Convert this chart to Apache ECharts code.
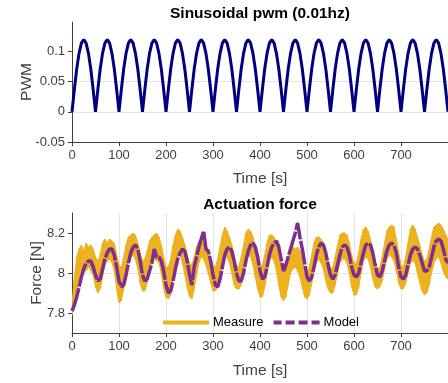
<!DOCTYPE html>
<html>
<head>
<meta charset="utf-8">
<script src="https://cdn.jsdelivr.net/npm/echarts@6/dist/echarts.min.js"></script>
<style>
html,body{margin:0;padding:0;background:#fff;}
#c{width:448px;height:383px;}
</style>
</head>
<body>
<div id="c"></div>
<script>
// ---- data ----
const dt = 5; // sample step [s]
const pwmValues = [
0,0.037,0.071,0.097,0.114,0.12,0.114,0.097,0.071,0.037,
0,0.037,0.071,0.097,0.114,0.12,0.114,0.097,0.071,0.037,
0,0.037,0.071,0.097,0.114,0.12,0.114,0.097,0.071,0.037,
0,0.037,0.071,0.097,0.114,0.12,0.114,0.097,0.071,0.037,
0,0.037,0.071,0.097,0.114,0.12,0.114,0.097,0.071,0.037,
0,0.037,0.071,0.097,0.114,0.12,0.114,0.097,0.071,0.037,
0,0.037,0.071,0.097,0.114,0.12,0.114,0.097,0.071,0.037,
0,0.037,0.071,0.097,0.114,0.12,0.114,0.097,0.071,0.037,
0,0.037,0.071,0.097,0.114,0.12,0.114,0.097,0.071,0.037,
0,0.037,0.071,0.097,0.114,0.12,0.114,0.097,0.071,0.037,
0,0.037,0.071,0.097,0.114,0.12,0.114,0.097,0.071,0.037,
0,0.037,0.071,0.097,0.114,0.12,0.114,0.097,0.071,0.037,
0,0.037,0.071,0.097,0.114,0.12,0.114,0.097,0.071,0.037,
0,0.037,0.071,0.097,0.114,0.12,0.114,0.097,0.071,0.037,
0,0.037,0.071,0.097,0.114,0.12,0.114,0.097,0.071,0.037,
0,0.037,0.071,0.097,0.114,0.12,0.114,0.097,0.071,0.037,
0];

const modelValues = [
7.81,7.84,7.88,7.93,7.98,8.02,8.05,8.06,8.06,8.03,
7.99,7.96,7.97,8.02,8.07,8.10,8.12,8.12,8.09,8.03,
7.96,7.93,7.94,7.99,8.05,8.10,8.13,8.14,8.12,8.06,
7.99,7.96,7.97,8.01,8.05,8.12,8.08,8.08,8.06,8.01,
7.94,7.90,7.91,7.96,8.02,8.07,8.10,8.12,8.11,8.06,
7.99,7.94,8.03,8.08,8.13,8.17,8.21,8.12,8.11,8.06,
7.99,7.94,7.93,7.97,8.03,8.09,8.12,8.13,8.11,8.06,
8.00,7.96,7.96,8.00,8.06,8.11,8.14,8.15,8.13,8.08,
8.01,7.97,7.98,8.03,8.09,8.13,8.15,8.16,8.13,8.07,
8.01,8.04,8.08,8.12,8.16,8.20,8.25,8.18,8.12,8.05,
7.98,7.96,7.98,8.03,8.09,8.13,8.15,8.14,8.10,8.04,
7.99,7.97,7.99,8.04,8.09,8.13,8.14,8.13,8.09,8.03,
7.99,7.98,8.00,8.05,8.10,8.14,8.15,8.14,8.10,8.04,
7.99,7.98,8.01,8.06,8.11,8.14,8.15,8.14,8.10,8.03,
7.98,7.97,7.99,8.04,8.09,8.12,8.13,8.12,8.09,8.05,
8.01,8.01,8.03,8.08,8.13,8.16,8.17,8.16,8.12,8.07,
8.05];

const measureHigh = [
7.84,7.98,8.08,8.12,8.14,8.11,8.15,8.13,8.14,8.12,
8.08,8.06,8.09,8.15,8.17,8.15,8.17,8.16,8.15,8.09,
8.04,8.03,8.08,8.14,8.18,8.19,8.20,8.19,8.15,8.10,
8.06,8.07,8.11,8.16,8.18,8.19,8.20,8.18,8.14,8.08,
8.03,8.03,8.07,8.14,8.19,8.22,8.21,8.18,8.14,8.09,
8.05,8.04,8.08,8.13,8.16,8.16,8.15,8.14,8.11,8.07,
8.04,8.03,8.07,8.13,8.19,8.23,8.21,8.18,8.14,8.08,
8.04,8.03,8.08,8.14,8.20,8.22,8.21,8.18,8.12,8.06,
8.03,8.04,8.09,8.15,8.19,8.19,8.18,8.15,8.10,8.05,
8.02,8.03,8.08,8.12,8.13,8.12,8.13,8.11,8.07,8.02,
8.00,8.03,8.09,8.15,8.18,8.18,8.17,8.15,8.11,8.06,
8.02,8.03,8.08,8.14,8.19,8.20,8.20,8.19,8.15,8.09,
8.05,8.05,8.10,8.17,8.22,8.23,8.21,8.17,8.12,8.06,
8.02,8.03,8.08,8.15,8.21,8.23,8.24,8.23,8.17,8.10,
8.04,8.03,8.08,8.15,8.22,8.24,8.22,8.18,8.14,8.09,
8.06,8.07,8.12,8.18,8.23,8.24,8.25,8.24,8.22,8.19,
8.17];

const measureLow = [
7.79,7.84,7.90,7.97,8.00,8.02,8.01,8.03,8.01,7.99,
7.93,7.90,7.92,7.98,8.04,8.06,8.07,8.05,8.01,7.92,
7.85,7.86,7.92,8.01,8.06,8.08,8.09,8.07,8.02,7.95,
7.91,7.91,7.95,8.02,8.06,8.07,8.06,8.05,8.00,7.92,
7.88,7.87,7.89,7.98,8.05,8.08,8.09,8.05,7.99,7.93,
7.88,7.87,7.92,7.99,8.05,8.08,8.07,8.04,8.00,7.95,
7.91,7.91,7.93,7.99,8.05,8.08,8.08,8.05,8.00,7.94,
7.92,7.92,7.94,8.00,8.06,8.09,8.08,8.04,7.98,7.92,
7.88,7.88,7.93,8.00,8.06,8.08,8.06,8.01,7.94,7.88,
7.86,7.88,7.94,8.00,8.02,8.03,8.01,7.98,7.93,7.88,
7.87,7.89,7.95,8.01,8.05,8.07,8.05,8.02,7.96,7.92,
7.90,7.90,7.94,8.00,8.05,8.07,8.07,8.05,8.00,7.93,
7.89,7.89,7.93,8.00,8.06,8.08,8.07,8.03,7.97,7.93,
7.92,7.93,7.96,8.02,8.07,8.09,8.08,8.06,8.01,7.95,
7.92,7.92,7.95,8.00,8.05,8.06,8.05,8.00,7.95,7.91,
7.89,7.90,7.94,8.00,8.05,8.07,8.08,8.05,8.01,7.98,
7.97];

const xTicks = [0,100,200,300,400,500,600,700];
const pwmTicks = [-0.05,0,0.05,0.1];
const forceTicks = [7.8,8,8.2];

// ---- chart ----
const FONT = "'Liberation Sans', Arial, Helvetica, sans-serif";
const AX = '#404040';
const GRIDC = '#e3e3e3';
const ORANGE = '#EDB120';
const PURPLE = '#7E2F8E';
const toXY = arr => arr.map((v,i)=>[i*dt, v]);

// band segments: [t0, lo0, hi0, t1, lo1, hi1]
const bandData = [];
for (let i = 0; i < measureLow.length - 1; i++) {
  bandData.push([i*dt, measureLow[i], measureHigh[i], (i+1)*dt, measureLow[i+1], measureHigh[i+1]]);
}

function xAxisCfg(gridIndex, vgrid, gap){
  return {
    type:'value', gridIndex, min:0, max:800,
    name:'Time [s]', nameLocation:'middle', nameGap:gap, nameMoveOverlap:false,
    nameTextStyle:{fontFamily:FONT,fontSize:15.5,color:AX},
    axisLine:{show:true,onZero:false,lineStyle:{color:AX,width:1}},
    axisTick:{show:true,inside:false,length:4,customValues:xTicks,lineStyle:{color:AX}},
    axisLabel:{customValues:xTicks,fontFamily:FONT,fontSize:13,color:AX,margin:7},
    splitLine:{show:vgrid,lineStyle:{color:GRIDC,width:1}}
  };
}
function yAxisCfg(gridIndex, min, max, ticks, name, gap, fmt){
  return {
    type:'value', gridIndex, min, max,
    name, nameLocation:'middle', nameGap:gap, nameMoveOverlap:false,
    nameTextStyle:{fontFamily:FONT,fontSize:15.5,color:AX},
    axisLine:{show:true,lineStyle:{color:AX,width:1}},
    axisTick:{show:true,inside:false,length:4,customValues:ticks,lineStyle:{color:AX}},
    axisLabel:{customValues:ticks,fontFamily:FONT,fontSize:13,color:AX,margin:7,formatter:fmt},
    splitLine:{show:true,showMinLine:false,showMaxLine:false,lineStyle:{color:GRIDC,width:1}}
  };
}

const chart = echarts.init(document.getElementById('c'), null, {renderer:'canvas'});
chart.setOption({
  animation:false,
  backgroundColor:'#fff',
  title:[
    {text:'Sinusoidal pwm (0.01hz)', left:260, textAlign:'center', top:6, padding:0,
     textStyle:{fontFamily:FONT,fontSize:15.5,fontWeight:'bold',color:'#000'}},
    {text:'Actuation force', left:260, textAlign:'center', top:197, padding:0,
     textStyle:{fontFamily:FONT,fontSize:15.5,fontWeight:'bold',color:'#000'}}
  ],
  grid:[
    {left:72, top:22, width:377, height:120},
    {left:72, top:213, width:377, height:120}
  ],
  xAxis:[ xAxisCfg(0,false,29), xAxisCfg(1,true,30) ],
  yAxis:[
    yAxisCfg(0,-0.05,0.149,pwmTicks,'PWM',37, v=>String(v)),
    yAxisCfg(1,7.7,8.3,forceTicks,'Force [N]',27, v=>String(Math.round(v*10)/10))
  ],
  legend:{
    left:158, top:311, itemWidth:46, itemHeight:14, itemGap:10,
    textStyle:{fontFamily:FONT,fontSize:13,color:'#000',padding:[0,0,0,-1]},
    data:[
      {name:'Measure', icon:'path://M0,0 L46,0 L46,4 L0,4 Z', itemStyle:{color:ORANGE}},
      {name:'Model', icon:'path://M0,0 L8,0 L8,4 L0,4 Z M12,0 L21,0 L21,4 L12,4 Z M25,0 L34,0 L34,4 L25,4 Z M38,0 L46,0 L46,4 L38,4 Z', itemStyle:{color:PURPLE}}
    ]
  },
  series:[
    {type:'line', name:'pwm', xAxisIndex:0, yAxisIndex:0, data:toXY(pwmValues),
     symbol:'none', lineStyle:{color:'#000080', width:3}, clip:true},
    {type:'custom', name:'Measure', xAxisIndex:1, yAxisIndex:1, data:bandData,
     itemStyle:{color:ORANGE}, silent:true, clip:true,
     encode:{x:[0,3], y:[1,2,4,5]},
     renderItem:function(params, api){
       const p0 = api.coord([api.value(0), api.value(1)]);
       const p1 = api.coord([api.value(3), api.value(4)]);
       const p2 = api.coord([api.value(3), api.value(5)]);
       const p3 = api.coord([api.value(0), api.value(2)]);
       return {type:'polygon', shape:{points:[p0,p1,p2,p3]},
               style:{fill:ORANGE, stroke:ORANGE, lineWidth:1}};
     }},
    {type:'line', name:'Model', xAxisIndex:1, yAxisIndex:1, data:toXY(modelValues), symbol:'none',
     itemStyle:{color:PURPLE}, lineStyle:{color:PURPLE, width:3.5, type:[24,1.5]}, clip:true}
  ]
});
</script>
</body>
</html>
